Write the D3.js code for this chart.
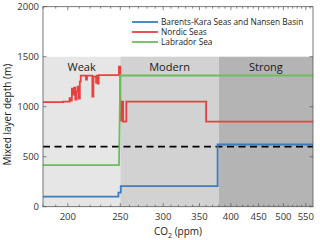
<!DOCTYPE html>
<html><head><meta charset="utf-8">
<script src="https://cdn.jsdelivr.net/npm/d3@7"></script>
<style>body{margin:0;background:#fff}svg{display:block}</style>
</head><body>
<svg id="c" width="320" height="240"></svg>
<script>
// Data
const regions = [
  {name: "Weak", from: 180, to: 250, color: "#e6e6e6"},
  {name: "Modern", from: 250, to: 380, color: "#d2d2d2"},
  {name: "Strong", from: 380, to: 567, color: "#b4b4b4"}
];
const regionTop = 1500;
const threshold = 600;

const barentsCO2 = [180, 248, 250.5, 378, 567];
const barentsMLD = [100, 140, 205, 622, 622];

const nordicCO2 = [180, 196, 201.5, 202.5, 203.5, 204.5, 205.5, 206.5, 207.5, 208.5, 209.5, 210.5, 211.3, 216, 217, 222, 223, 225.5, 226.2, 227, 228, 248.6, 250, 251.5, 253, 256.5, 360, 567];
const nordicMLD = [1045, 1050, 1085, 1060, 1180, 1120, 1190, 1070, 1150, 1200, 1080, 1250, 1310, 1270, 1310, 1100, 1300, 1240, 1310, 1230, 1315, 1400, 860, 1050, 850, 1050, 850, 850];

const labradorCO2 = [180, 248.6, 250, 567];
const labradorMLD = [415, 415, 1312, 1312];

const xMajor = [200, 250, 300, 350, 400, 450, 500, 550];
const yMajor = [0, 500, 1000, 1500, 2000];

const series = [
  {name: "Barents-Kara Seas and Nansen Basin", x: barentsCO2, y: barentsMLD, color: "#3b7cbd", curve: d3.curveStepAfter},
  {name: "Nordic Seas", x: nordicCO2, y: nordicMLD, color: "#e8413f", curve: d3.curveStepAfter},
  {name: "Labrador Sea", x: labradorCO2, y: labradorMLD, color: "#6cbd5c", curve: d3.curveLinear}
];

const svg = d3.select("#c");
const L = 43, R = 313, T = 6.7, B = 206.7;
const x = d3.scaleLog().domain([180, 567]).range([L, R]);
const y = d3.scaleLinear().domain([0, 2000]).range([B, T]);
const font = "'Open Sans', 'Noto Sans', sans-serif";

// regions
svg.selectAll("rect.reg").data(regions).enter().append("rect")
  .attr("x", d => x(d.from)).attr("width", d => x(d.to) - x(d.from))
  .attr("y", y(regionTop)).attr("height", y(0) - y(regionTop))
  .attr("fill", d => d.color);
svg.selectAll("text.reg").data(regions).enter().append("text")
  .attr("x", d => (x(d.from) + x(d.to)) / 2).attr("y", y(1500) + 14)
  .attr("text-anchor", "middle").attr("font-family", font).attr("font-size", 11)
  .attr("fill", "#1a1a1a").text(d => d.name);

// threshold
svg.append("line").attr("x1", L).attr("x2", R).attr("y1", y(threshold)).attr("y2", y(threshold))
  .attr("stroke", "#000").attr("stroke-width", 1.8).attr("stroke-dasharray", "7,4.5");

// series
series.forEach(s => {
  const pts = s.x.map((v, i) => [v, s.y[i]]);
  svg.append("path").datum(pts)
    .attr("d", d3.line().x(d => x(d[0])).y(d => y(d[1])).curve(s.curve))
    .attr("fill", "none").attr("stroke", s.color).attr("stroke-width", 1.8);
});

// frame
svg.append("rect").attr("x", L).attr("y", T).attr("width", R - L).attr("height", B - T)
  .attr("fill", "none").attr("stroke", "#555").attr("stroke-width", 0.8);

// x ticks
const xMinor = d3.range(180, 561, 10);
const g = svg.append("g").attr("stroke", "#555").attr("stroke-width", 0.7);
xMinor.forEach(v => {
  const len = xMajor.includes(v) ? 3.5 : 2;
  g.append("line").attr("x1", x(v)).attr("x2", x(v)).attr("y1", B).attr("y2", B - len);
  g.append("line").attr("x1", x(v)).attr("x2", x(v)).attr("y1", T).attr("y2", T + len);
});
yMajor.forEach(v => {
  g.append("line").attr("x1", L).attr("x2", L + 3.5).attr("y1", y(v)).attr("y2", y(v));
  g.append("line").attr("x1", R).attr("x2", R - 3.5).attr("y1", y(v)).attr("y2", y(v));
});
svg.selectAll("text.xt").data(xMajor).enter().append("text")
  .attr("x", d => x(d)).attr("y", 219.5).attr("text-anchor", "middle")
  .attr("font-family", font).attr("font-size", 9.5).attr("fill", "#333").text(d => d);
svg.selectAll("text.yt").data(yMajor).enter().append("text")
  .attr("x", L - 4).attr("y", d => y(d) + 3.5).attr("text-anchor", "end")
  .attr("font-family", font).attr("font-size", 9.5).attr("fill", "#333").text(d => d);

// axis labels
const xl = svg.append("text").attr("x", (L + R) / 2).attr("y", 235).attr("text-anchor", "middle")
  .attr("font-family", font).attr("font-size", 10).attr("fill", "#222");
xl.append("tspan").text("CO");
xl.append("tspan").attr("dy", 3).attr("font-size", 7).text("2");
xl.append("tspan").attr("dy", -3).text(" (ppm)");
svg.append("text").attr("transform", `translate(11,${(T + B) / 2 + 8}) rotate(-90)`)
  .attr("text-anchor", "middle").attr("font-family", font).attr("font-size", 10)
  .attr("fill", "#222").text("Mixed layer depth (m)");

// legend
series.forEach((s, i) => {
  const yy = 22 + i * 10;
  svg.append("line").attr("x1", 132).attr("x2", 158).attr("y1", yy).attr("y2", yy)
    .attr("stroke", s.color).attr("stroke-width", 1.8);
  svg.append("text").attr("x", 161).attr("y", yy + 3).attr("font-family", font)
    .attr("font-size", 8.3).attr("fill", "#222").text(s.name);
});
</script>
</body></html>
